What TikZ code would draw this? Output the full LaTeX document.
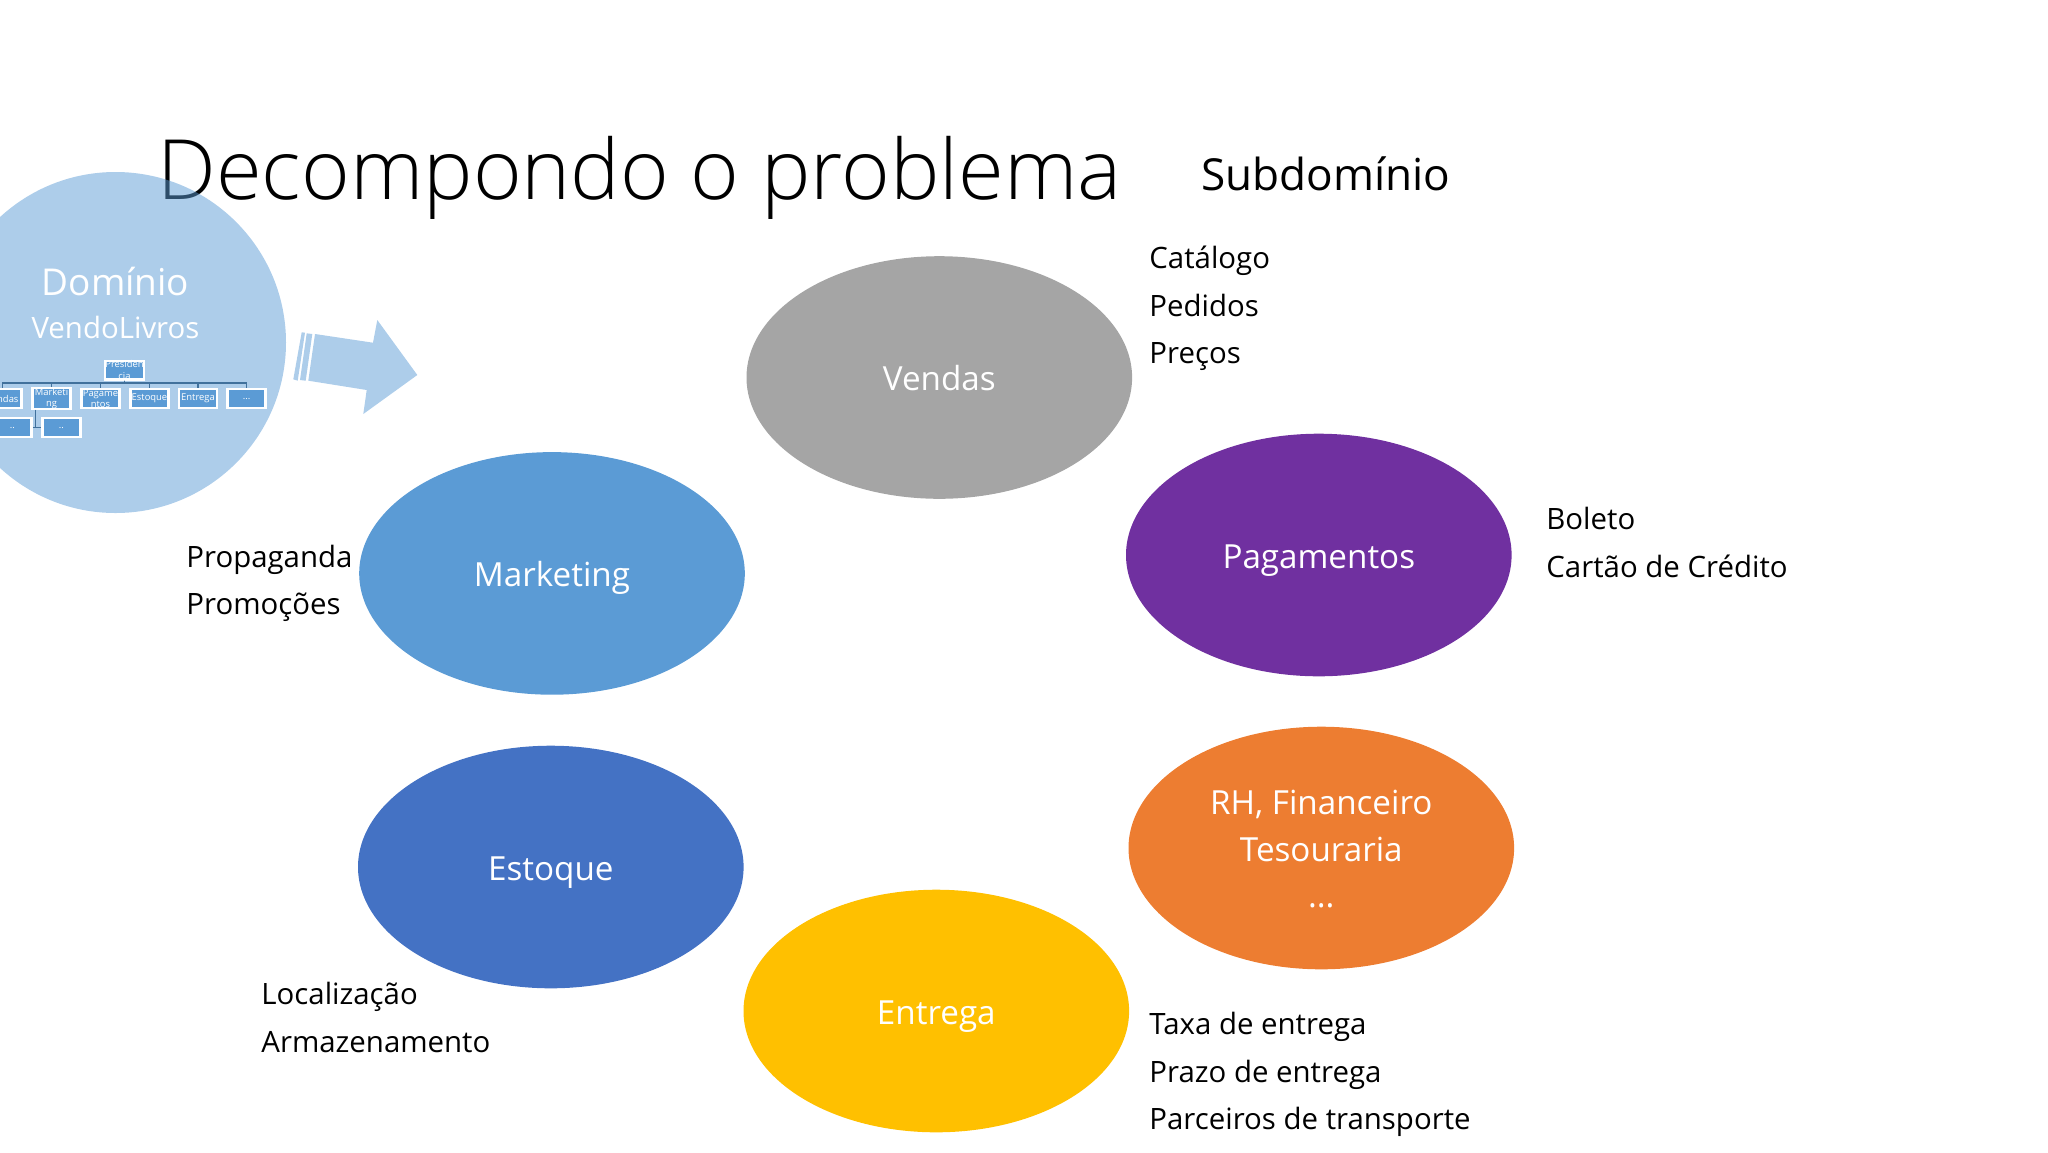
\documentclass[tikz,border=0pt]{standalone}
\usepackage{fontspec}
\setmainfont{Open Sans}
\newfontfamily\lightfont{Open Sans Light}
\usetikzlibrary{shapes.geometric}
\definecolor{cVendas}{HTML}{A5A5A5}
\definecolor{cMkt}{HTML}{5B9BD5}
\definecolor{cPag}{HTML}{7030A0}
\definecolor{cEst}{HTML}{4472C4}
\definecolor{cRH}{HTML}{ED7D31}
\definecolor{cEnt}{HTML}{FFC000}
\definecolor{cBus}{HTML}{41719C}
\newcommand{\lowr}[1]{\raisebox{-4.1pt}[10pt][5pt]{#1}}
\tikzset{
  x=0.5pt,y=-0.5pt,
  sub/.style={ellipse,draw=none,minimum width=192.8pt,minimum height=121.3pt,inner sep=0pt,text=white,align=center,font=\fontsize{16.6}{23.2}\selectfont},
  lab/.style={anchor=north west,inner sep=0pt,align=left,text=black,font=\fontsize{14.7}{23.7}\selectfont},
  org/.style={draw=white,line width=1.1pt,fill=cMkt,minimum width=19pt,minimum height=9.4pt,inner sep=0pt,text=white,align=center,font=\fontsize{4.7}{5.6}\selectfont},
  bus/.style={draw=cBus,line width=0.9pt},
  pale/.style={fill=cMkt,fill opacity=0.5,draw=none}
}
\begin{document}
\begin{tikzpicture}
\useasboundingbox (0,0) rectangle (2048,1152);
\clip (0,0) rectangle (2048,1152);
\node[anchor=west,inner sep=0pt,font=\lightfont\fontsize{41.6}{45}\selectfont] (title) at (157,178) {Decompondo o problema};
\node[anchor=west,inner sep=0pt,font=\fontsize{22.05}{26}\selectfont] (subd) at (1201,174) {Subdomínio};
\node[circle,pale,minimum size=170.5pt,inner sep=0pt] (dom) at (115.5,342.5) {};
\node[text=white,inner sep=0pt,font=\fontsize{18.5}{22}\selectfont] (domt) at (115.5,281) {Domínio};
\node[text=white,inner sep=0pt,font=\fontsize{14.7}{18}\selectfont] (domv) at (115.5,327) {VendoLivros};
\fill[pale] (315,334)--(373,342.7)--(377.3,320)--(417.3,375)--(363.3,414)--(366.7,390)--(308.3,380.7)--cycle;
\fill[pale] (301.7,332.3)--(305,332.7)--(297.7,380.7)--(293.3,379.3)--cycle;
\fill[pale] (306.7,333.3)--(312.3,334)--(305.7,380.7)--(300,380)--cycle;
\node[org] (pres) at (124.5,370) {Presiden\\cia};
\node[org] (o1) at (2.5,398.5) {Vendas};
\node[org] (o2) at (51.5,398.5) {Marketi\\ng};
\node[org] (o3) at (100.5,398.5) {Pagame\\ntos};
\node[org] (o4) at (149.5,398.5) {Estoque};
\node[org] (o5) at (198,398.5) {Entrega};
\node[org] (o6) at (246.5,398.5) {...};
\node[org] (o7) at (12.5,427.5) {..};
\node[org] (o8) at (61.5,427.5) {..};
\foreach \n in {o1,o2,o3,o4,o5,o6}{\draw[bus] (pres.south) -- ++(0,2.5) -| (\n.north);}
\draw[bus] (o2.south west) ++(4,0) |- (o8.west);
\draw[bus] (o2.south west) ++(4,0) |- (o7.east);
\node[sub,fill=cVendas] (vendas) at (939.3,377.5) {\lowr{Vendas}};
\node[sub,fill=cMkt] (mkt) at (552,573.4) {\lowr{Marketing}};
\node[sub,fill=cPag] (pag) at (1318.8,555) {\lowr{Pagamentos}};
\node[sub,fill=cRH] (rh) at (1321.3,848) {\lowr{RH, Financeiro}\\\lowr{Tesouraria}\\\lowr{...}};
\node[sub,fill=cEnt] (ent) at (936.3,1011) {\lowr{Entrega}};
\node[sub,fill=cEst] (est) at (550.8,867) {\lowr{Estoque}};
\node[lab] (lv) at (1149,246) {Catálogo\\Pedidos\\Preços};
\node[lab] (lp) at (1546,507) {Boleto\\Cartão de Crédito};
\node[lab] (lm) at (186,544.5) {Propaganda\\Promoções};
\node[lab] (le) at (261,982) {Localização\\Armazenamento};
\node[lab] (ln) at (1149,1012) {Taxa de entrega\\Prazo de entrega\\Parceiros de transporte};
\end{tikzpicture}
\end{document}
